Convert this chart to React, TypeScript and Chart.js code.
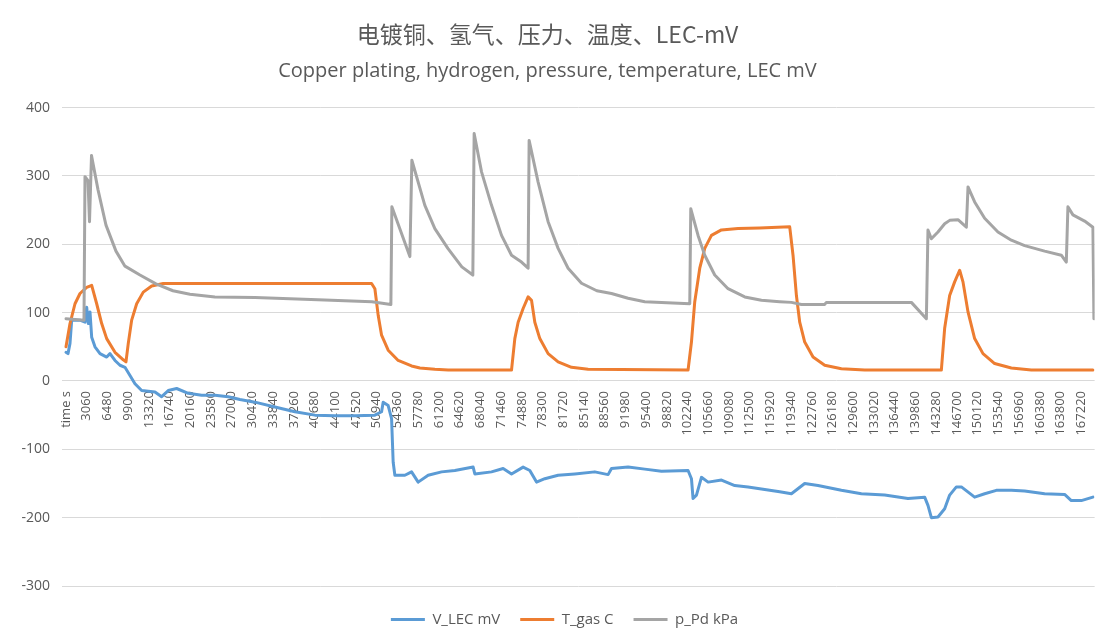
import React, { useEffect, useRef } from "react";
import { Chart, registerables } from "chart.js";

Chart.register(...registerables);

const titleText = "电镀铜、氢气、压力、温度、LEC-mV";
const subtitleText = "Copper plating, hydrogen, pressure, temperature, LEC mV";

const xTickLabels = [
  "time s", "3060", "6480", "9900", "13320", "16740", "20160", "23580", "27000", "30420",
  "33840", "37260", "40680", "44100", "47520", "50940", "54360", "57780", "61200", "64620",
  "68040", "71460", "74880", "78300", "81720", "85140", "88560", "91980", "95400", "98820",
  "102240", "105660", "109080", "112500", "115920", "119340", "122760", "126180", "129600", "133020",
  "136440", "139860", "143280", "146700", "150120", "153540", "156960", "160380", "163800", "167220",
];
const xTickValues = [
  -360, 3060, 6480, 9900, 13320, 16740, 20160, 23580, 27000, 30420,
  33840, 37260, 40680, 44100, 47520, 50940, 54360, 57780, 61200, 64620,
  68040, 71460, 74880, 78300, 81720, 85140, 88560, 91980, 95400, 98820,
  102240, 105660, 109080, 112500, 115920, 119340, 122760, 126180, 129600, 133020,
  136440, 139860, 143280, 146700, 150120, 153540, 156960, 160380, 163800, 167220,
];

// V_LEC mV
const vTime = [
  -360, -30, 300, 580, 1950, 2775, 3055, 3320, 3600, 3880, 4425, 5250, 6355, 6900, 7725, 8550,
  9375, 10200, 11025, 12130, 14325, 15430, 16520, 17905, 19820, 22030, 24225, 26420, 28350,
  30825, 34125, 37425, 40725, 44025, 47325, 50625, 51730, 51995, 52820, 53380, 53645, 53925,
  55575, 56680, 57770, 59420, 61630, 63825, 66845, 67125, 69880, 71795, 73180, 75095, 76200,
  77305, 78675, 80870, 83625, 86925, 89120, 89680, 92420, 95175, 97930, 102320, 102880, 103145,
  103705, 104530, 105630, 107840, 110025, 112220, 114430, 117450, 119380, 121575, 123770,
  127630, 130930, 134775, 138620, 141375, 141920, 142480, 143570, 144675, 145500, 146605,
  147430, 149625, 151275, 153205, 155680, 157875, 161175, 164475, 165580, 167230, 169145,
];
const vValues = [
  42, 40, 55, 89, 89, 86, 108, 84, 101, 64, 50, 40, 35, 40, 30, 23,
  20, 8, -4, -14, -16, -23, -14, -11, -18, -21, -21, -23, -27,
  -31, -38, -45, -50, -51, -51, -50, -45, -31, -36, -55, -119, -138,
  -138, -133, -148, -138, -133, -131, -126, -136, -133, -128, -136, -126, -131,
  -148, -143, -138, -136, -133, -137, -128, -126, -129, -132, -131, -143, -172,
  -167, -141, -148, -145, -153, -155, -158, -162, -165, -150, -153,
  -160, -165, -167, -172, -170, -182, -200, -199, -187, -167, -155,
  -155, -170, -165, -160, -160, -161, -165, -166, -175, -175, -170,
];

// T_gas C
const tTime = [
  -360, 300, 1125, 1950, 3055, 3880, 4705, 5530, 6355, 7725, 9095, 9540, 9920, 10480, 11305,
  12395, 13780, 15695, 50080, 50625, 51170, 51730, 52820, 54470, 56680, 58050, 60525, 62720,
  73180, 73725, 74270, 75095, 75920, 76480, 77025, 77850, 79220, 80870, 83080, 85820, 102320,
  102880, 103425, 104250, 105075, 106180, 107830, 110570, 114150, 119100, 119645, 120205,
  120750, 121575, 122950, 124875, 127630, 131475, 144130, 144675, 145500, 146325, 147150,
  147700, 148530, 149625, 151000, 152925, 155680, 158980, 169145,
];
const tValues = [
  50, 84, 113, 128, 137, 140, 113, 84, 62, 42, 31, 28, 55, 89, 113,
  130, 139, 142.6, 142.6, 135, 96, 67, 45, 30, 22, 19, 17, 16,
  16, 62, 86, 106, 123, 118, 86, 62, 40, 28, 20, 17, 16,
  57, 116, 165, 194, 213, 221, 223, 224, 225.5, 184, 125,
  86, 57, 35, 23, 18, 16, 16, 77, 125, 145, 162,
  145, 101, 62, 40, 25.5, 19, 16, 16,
];

// p_Pd kPa
const pTime = [
  -360, 2610, 2775, 3270, 3520, 3850, 4920, 6240, 7890, 9375, 11850, 14490, 17295, 20100,
  24225, 30825, 41220, 50130, 53265, 53430, 56400, 56730, 58875, 60525, 62670, 64980, 66795,
  67010, 68230, 69880, 71530, 73180, 74830, 75920, 76085, 77570, 79220, 80870, 82520, 84730,
  87255, 89680, 92420, 95175, 97930, 102600, 102765, 103970, 105075, 106725, 108920, 111675,
  114430, 117450, 119380, 121030, 124875, 125150, 139180, 141655, 141920, 142480, 143570,
  144675, 145500, 146870, 148255, 148530, 149625, 151275, 153470, 155680, 157875, 161175,
  163930, 164755, 165020, 165845, 167775, 169145, 169310,
];
const pValues = [
  91, 89, 299, 293, 233, 330, 280, 228, 190, 168, 155, 142, 132, 127,
  123, 122, 119, 116, 112, 255, 182, 323, 257, 223, 194, 167, 155,
  362, 306, 257, 213, 184, 174, 165, 352, 291, 233, 194, 165, 143,
  132, 128, 121, 116, 115, 113, 252, 213, 184, 155, 135, 123,
  118, 116, 115, 112, 112, 115, 115, 91, 221, 208, 218,
  230, 235, 236, 225, 284, 262, 238, 218, 206, 198, 190,
  184, 174, 255, 243, 234, 225, 91,
];

const toPoints = (xs: number[], ys: number[]) => xs.map((x, i) => ({ x, y: ys[i] }));

const TEXT = "#595959";
const FONT = '"Open Sans", "Noto Sans", sans-serif';

// nudges the legend block to where the reference places it
const legendShift = {
  id: "legendShift",
  afterLayout(chart: any) {
    const lg = chart.legend;
    if (!lg) return;
    lg.left += 17;
    lg.right += 17;
    lg.top += 6;
    lg.bottom += 6;
  },
};

export default function App() {
  const ref = useRef<HTMLCanvasElement>(null);

  useEffect(() => {
    if (!ref.current) return;
    const lineBase = {
      borderWidth: 3,
      pointRadius: 0,
      pointHoverRadius: 0,
      tension: 0,
      borderJoinStyle: "round" as const,
      borderCapStyle: "round" as const,
      fill: false,
    };
    const chart = new Chart(ref.current, {
      type: "line",
      data: {
        datasets: [
          { ...lineBase, label: "V_LEC mV", data: toPoints(vTime, vValues), borderColor: "#5B9BD5", backgroundColor: "#5B9BD5", order: 3 },
          { ...lineBase, label: "T_gas C", data: toPoints(tTime, tValues), borderColor: "#ED7D31", backgroundColor: "#ED7D31", order: 2 },
          { ...lineBase, label: "p_Pd kPa", data: toPoints(pTime, pValues), borderColor: "#A5A5A5", backgroundColor: "#A5A5A5", order: 1 },
        ],
      },
      plugins: [legendShift],
      options: {
        animation: false,
        responsive: true,
        maintainAspectRatio: false,
        layout: { padding: { left: 0, right: 12, top: 0, bottom: 12 } },
        plugins: {
          title: {
            display: true,
            text: titleText,
            color: TEXT,
            font: { family: '"Noto Sans CJK SC", sans-serif', size: 23, weight: "normal" },
            padding: { top: 20, bottom: 12 },
          },
          subtitle: {
            display: true,
            text: subtitleText,
            color: TEXT,
            font: { family: FONT, size: 20, weight: "normal" },
            padding: { top: 0, bottom: 24 },
          },
          legend: {
            display: true,
            position: "bottom",
            labels: {
              usePointStyle: true,
              pointStyle: "line",
              pointStyleWidth: 34,
              boxHeight: 15,
              color: TEXT,
              font: { family: FONT, size: 15 },
              padding: 20,
              sort: (a: any, b: any) => a.datasetIndex - b.datasetIndex,
            },
          },
          tooltip: { enabled: false },
        },
        scales: {
          x: {
            type: "linear",
            position: { y: 0 } as any,
            min: -1020,
            max: 169430,
            grid: { display: false, drawTicks: false },
            border: { display: false },
            afterBuildTicks: (scale: any) => {
              scale.ticks = xTickValues.map((v) => ({ value: v }));
            },
            afterFit: (scale: any) => {
              scale.height = 0;
            },
            ticks: {
              autoSkip: false,
              maxRotation: 90,
              minRotation: 90,
              padding: 10,
              color: TEXT,
              font: { family: FONT, size: 13 },
              callback: (_v: any, i: number) => xTickLabels[i],
            },
          },
          y: {
            type: "linear",
            min: -300,
            max: 400,
            grid: { color: "#D9D9D9", lineWidth: 1, drawTicks: false },
            border: { display: false },
            afterFit: (scale: any) => {
              scale.width = 62;
            },
            ticks: {
              stepSize: 100,
              padding: 12,
              color: TEXT,
              font: { family: FONT, size: 14 },
            },
          },
        },
      },
    });
    return () => chart.destroy();
  }, []);

  return (
    <div style={{ position: "absolute", left: 0, top: 0, width: 1107, height: 643, background: "#fff" }}>
      <canvas ref={ref} />
    </div>
  );
}
